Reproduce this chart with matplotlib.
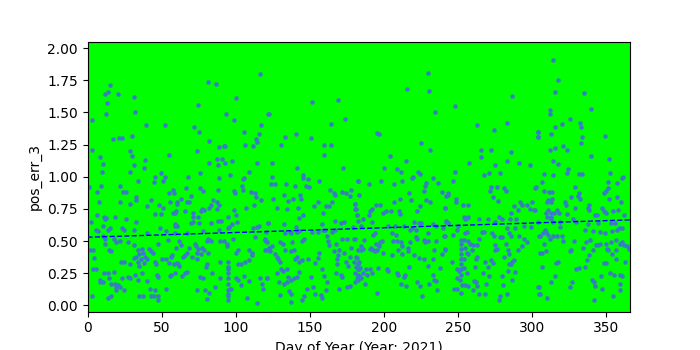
import numpy as np
import matplotlib
matplotlib.use("Agg")
import matplotlib.pyplot as plt

# (day of year, pos_err_3), split by stretch of the year
days_0_60 = [
    (15.5, 1.71), (13.7, 1.66), (12, 1.64), (20.5, 1.64), (13, 1.57), (31.3, 1.62),
    (12.4, 1.49), (32, 1.50), (2.9, 1.44), (39.4, 1.40), (52, 1.40), (17.3, 1.29),
    (21.2, 1.30), (23.2, 1.30), (30.2, 1.32), (2.9, 1.21), (28.6, 1.20), (30, 1.16),
    (8.3, 1.15), (55, 1.17), (10.4, 1.10), (9.5, 1.04), (31.3, 1.09), (38.7, 1.13),
    (38, 1.07), (29, 1.04), (33.8, 0.97), (0.9, 0.92), (9, 0.93), (21.8, 0.93),
    (45.5, 1.00), (45, 0.96), (49.7, 1.03), (52, 1.00), (51, 0.97), (6.3, 0.88),
    (24, 0.88), (26.3, 0.88), (33, 0.84), (32.7, 0.82), (7.7, 0.80), (21.8, 0.80),
    (28.6, 0.79), (42.8, 0.82), (40.1, 0.77), (48, 0.78), (51, 0.76), (55, 0.87),
    (57.7, 0.90), (58.3, 0.87), (55.6, 0.80), (60.6, 0.79), (58.8, 0.72), (57.7, 0.72),
    (45.5, 0.71), (49.7, 0.71), (2.5, 0.65), (6.3, 0.70), (11.3, 0.69), (12.4, 0.68),
    (12, 0.67), (18.5, 0.69), (26, 0.67), (32.7, 0.65), (10.4, 0.62), (15, 0.60),
    (13.5, 0.59), (5.4, 0.59), (7, 0.58), (23.6, 0.60), (24.3, 0.59), (31.3, 0.59),
    (40, 0.56), (48.9, 0.60), (58.8, 0.63), (60.6, 0.62), (52.7, 0.58), (47.7, 0.48),
    (54, 0.51), (10.6, 0.54), (12, 0.52), (11.7, 0.48), (18, 0.52), (19.4, 0.49),
    (22, 0.50), (27, 0.49), (1.4, 0.43), (3.6, 0.43), (14.6, 0.43), (15.8, 0.42),
    (4.7, 0.37), (22.7, 0.34), (24.3, 0.34), (28.6, 0.32), (31.3, 0.37), (32.7, 0.38),
    (34.4, 0.43), (36.5, 0.44), (34.9, 0.40), (36.3, 0.36), (38.7, 0.38), (40, 0.36),
    (38, 0.33), (33.8, 0.34), (35, 0.31), (41.2, 0.44), (43.9, 0.41), (45.3, 0.34),
    (46, 0.32), (50.5, 0.36), (52.7, 0.36), (56, 0.38), (57, 0.39), (54.7, 0.33),
    (58.3, 0.32), (56.5, 0.24), (55.4, 0.23), (61, 0.32), (4, 0.28), (5.9, 0.28),
    (11, 0.25), (14, 0.25), (17.6, 0.26), (8.6, 0.20), (8.3, 0.18), (10.4, 0.18),
    (14.4, 0.21), (16, 0.17), (18.5, 0.17), (19.4, 0.14), (20.3, 0.16), (21.6, 0.14),
    (19, 0.12), (23.4, 0.21), (27.3, 0.22), (28.8, 0.21), (32.2, 0.24), (34, 0.20),
    (36.5, 0.25), (40, 0.19), (42, 0.13), (46.6, 0.24), (47.7, 0.22), (45.3, 0.12),
    (47.5, 0.07), (24.5, 0.12), (2.7, 0.07), (13.5, 0.06), (16, 0.07), (35, 0.07),
    (37.4, 0.07), (43, 0.07), (44.6, 0.07), (47.3, 0.04), (52.7, 0.13), (31.7, 0.47),
    (37.4, 0.41), (43, 0.42),
]

days_60_120 = [
    (116.3, 1.80), (81.2, 1.74), (86.6, 1.72), (74.5, 1.56), (100.1, 1.61), (93.4, 1.49),
    (98.8, 1.44), (72, 1.39), (75.1, 1.35), (105.5, 1.35), (122, 1.49), (117, 1.40),
    (115.6, 1.33), (113.8, 1.29), (114.5, 1.27), (81.9, 1.28), (106.2, 1.25), (111.6, 1.24),
    (88.6, 1.23), (92, 1.24), (93, 1.24), (73.8, 1.20), (87.3, 1.14), (90.7, 1.14),
    (88, 1.09), (92.7, 1.11), (97.4, 1.12), (81.9, 1.11), (114.3, 1.11), (75.8, 1.03),
    (67.7, 1.00), (88.6, 0.99), (96, 1.01), (108.7, 1.04), (105.5, 0.99), (104.8, 0.98),
    (88, 0.90), (75.6, 0.91), (77.8, 0.89), (98.8, 0.89), (99.4, 0.87), (104.4, 0.93),
    (105, 0.90), (110.2, 0.88), (112.7, 0.87), (113.8, 0.84), (117, 0.82), (66.6, 0.91),
    (63.2, 0.83), (69.5, 0.85), (60.3, 0.80), (67, 0.80), (68.2, 0.80), (84.6, 0.82),
    (87.3, 0.80), (88.6, 0.78), (83, 0.78), (81.9, 0.76), (77.4, 0.75), (78.3, 0.74),
    (59.4, 0.73), (65.7, 0.73), (71.1, 0.72), (71.1, 0.69), (76.5, 0.73), (87.5, 0.75),
    (98.8, 0.74), (100.3, 0.70), (106.9, 0.76), (112, 0.78), (74.5, 0.69), (88.2, 0.66),
    (89.8, 0.66), (94.7, 0.69), (83, 0.64), (69.5, 0.64), (71.1, 0.65), (75.1, 0.64),
    (97.4, 0.63), (101, 0.65), (58.7, 0.62), (115.4, 0.62), (114.3, 0.61), (95.8, 0.61),
    (94.5, 0.60), (78, 0.58), (88.6, 0.59), (111.8, 0.60), (122, 0.64), (67.3, 0.56),
    (59.1, 0.56), (112.7, 0.53), (119.9, 0.52), (120.8, 0.49), (81.4, 0.52), (83.2, 0.50),
    (80.8, 0.50), (89.5, 0.50), (92, 0.50), (94, 0.48), (94.3, 0.46), (97.9, 0.52),
    (61.6, 0.50), (60, 0.45), (63.2, 0.47), (72.2, 0.48), (73.3, 0.46), (74.5, 0.44),
    (77.2, 0.45), (78.5, 0.43), (68.4, 0.45), (67.3, 0.41), (81, 0.41), (73.6, 0.41),
    (76.3, 0.40), (74, 0.36), (64.1, 0.38), (66.1, 0.39), (100.1, 0.41), (101.7, 0.43),
    (108.9, 0.43), (111.1, 0.41), (111.1, 0.39), (119.5, 0.43), (122.4, 0.43),
    (94.7, 0.34), (94.7, 0.30), (94.7, 0.28), (94.7, 0.25), (94.7, 0.21), (94.7, 0.17),
    (94.7, 0.12), (94.7, 0.09), (94.7, 0.07), (94.7, 0.04), (89.5, 0.34), (80.8, 0.32),
    (79.9, 0.30), (70.4, 0.38), (60.5, 0.33), (61.6, 0.31), (66.8, 0.26), (65.5, 0.25),
    (63.9, 0.23), (58.7, 0.25), (76, 0.22), (77.6, 0.21), (83.7, 0.25), (89.3, 0.21),
    (101.7, 0.32), (103.5, 0.32), (106.4, 0.34), (108.7, 0.35), (100.3, 0.21), (101.5, 0.20),
    (103.5, 0.16), (105.5, 0.23), (109.1, 0.19), (116.1, 0.21), (120.8, 0.21), (117.7, 0.17),
    (118.3, 0.13), (73.6, 0.12), (79.2, 0.12), (81.9, 0.10), (80.5, 0.05), (86, 0.14),
    (96, 0.13), (97, 0.13), (107.8, 0.06), (114.3, 0.02),
]

days_120_180 = [
    (151.5, 1.58), (169, 1.60), (122.4, 1.49), (173.7, 1.45), (164.3, 1.41), (140.4, 1.33),
    (133.2, 1.31), (150.8, 1.30), (130.5, 1.25), (159.6, 1.25), (164, 1.25), (159.6, 1.17),
    (124.5, 1.11), (141.1, 1.07), (172.4, 1.07), (124.5, 1.00), (145.4, 1.01), (145.4, 0.99),
    (148.8, 0.98), (123.8, 0.94), (126.5, 0.94), (133.9, 0.94), (140, 0.93), (147.4, 0.93),
    (149.7, 0.92), (156.2, 0.97), (163.6, 0.90), (166.3, 0.87), (167, 0.86), (171.7, 0.88),
    (174.4, 0.87), (177.8, 0.90), (177.1, 0.85), (182.3, 0.97), (125.1, 0.83), (132.6, 0.86),
    (135.3, 0.81), (138.9, 0.83), (143.4, 0.86), (143.8, 0.83), (155.5, 0.80), (152.8, 0.77),
    (127.8, 0.76), (134.6, 0.75), (142, 0.76), (160.9, 0.77), (163, 0.77), (164.7, 0.80),
    (180.3, 0.79), (180.5, 0.75), (182.1, 0.70), (158.9, 0.72), (145.4, 0.70), (142.9, 0.68),
    (166.8, 0.66), (171.3, 0.64), (172.8, 0.65), (182.7, 0.66), (121.5, 0.64), (132.6, 0.63),
    (140.7, 0.61), (158.2, 0.63), (179.1, 0.61), (120.4, 0.57), (119.5, 0.51), (120.4, 0.50),
    (133, 0.56), (136.4, 0.57), (137.5, 0.56), (141.1, 0.57), (142, 0.58), (142.9, 0.58),
    (145.8, 0.52), (144.5, 0.50), (151.7, 0.57), (155.5, 0.57), (158.7, 0.59), (160.5, 0.59),
    (165.2, 0.57), (167.2, 0.59), (124.5, 0.46), (122.4, 0.45), (120.2, 0.43), (123.1, 0.42),
    (129.9, 0.49), (131.9, 0.48), (137.7, 0.49), (133, 0.43), (137.3, 0.42), (139.1, 0.43),
    (126.7, 0.40), (128.5, 0.36), (129.6, 0.34), (127.8, 0.38), (141.1, 0.38), (140.2, 0.36),
    (142.9, 0.34), (145, 0.35), (148.8, 0.36), (153.3, 0.33), (156, 0.41), (155.5, 0.37),
    (161.8, 0.54), (162.3, 0.50), (163, 0.47), (167.4, 0.48), (166.3, 0.42), (169.7, 0.43),
    (169, 0.39), (168.3, 0.36), (168.6, 0.32), (171.5, 0.52), (175.1, 0.52), (179.8, 0.52),
    (177.6, 0.45), (173.1, 0.41), (174.4, 0.34), (176, 0.31), (176.9, 0.38), (179.8, 0.34),
    (181.4, 0.38), (182.5, 0.43), (182.6, 0.32), (183, 0.28), (182.7, 0.24), (182.3, 0.20),
    (121.1, 0.21), (128, 0.25), (130.5, 0.28), (132.1, 0.27), (134.4, 0.28), (135.3, 0.22),
    (137.1, 0.20), (139.1, 0.21), (141.3, 0.22), (142.5, 0.26), (134.4, 0.18), (132.8, 0.17),
    (129.2, 0.18), (135.7, 0.11), (137.5, 0.09), (137.3, 0.03), (129.9, 0.08), (144.5, 0.04),
    (147.9, 0.13), (152.4, 0.14), (153.5, 0.09), (151, 0.22), (158.2, 0.28), (159.3, 0.23),
    (161.6, 0.18), (161.1, 0.12), (167.7, 0.25), (171.3, 0.24), (172, 0.22), (169.5, 0.13),
    (174.9, 0.14), (177.3, 0.15), (157.5, 0.08), (158.2, 0.06), (145.8, 0.07),
]

days_180_240 = [
    (229.8, 1.81), (215.6, 1.68), (230.5, 1.67), (234.5, 1.50), (195.2, 1.34), (196.7, 1.33),
    (225.1, 1.26), (231.2, 1.21), (204.2, 1.16), (215, 1.12), (200.1, 1.07), (208.9, 1.06),
    (211.6, 1.04), (182.5, 0.97), (190, 0.94), (198.1, 0.97), (206.9, 0.94), (212.3, 0.97),
    (219, 0.99), (219.9, 1.00), (223.3, 1.04), (224.6, 1.02), (233.2, 0.99), (228.2, 0.95),
    (228, 0.93), (236.8, 0.95), (227.3, 0.89), (183.2, 0.86), (217, 0.87), (239.3, 0.88),
    (242.9, 0.86), (210.9, 0.83), (218.3, 0.82), (228.7, 0.82), (231.2, 0.80), (206.9, 0.80),
    (194.5, 0.78), (197.2, 0.78), (180.3, 0.79), (181.2, 0.75), (224.4, 0.77), (241.1, 0.76),
    (192, 0.75), (190.4, 0.73), (190, 0.70), (199.2, 0.72), (201.7, 0.73), (204.6, 0.73),
    (210, 0.73), (210.7, 0.71), (222.2, 0.73), (182.1, 0.70), (186, 0.67), (191.8, 0.65),
    (184.8, 0.62), (202.8, 0.62), (207.5, 0.62), (213.4, 0.62), (220.4, 0.65), (223.5, 0.64),
    (225.3, 0.64), (233, 0.63), (234.8, 0.62), (242.2, 0.66), (243.5, 0.64), (239.7, 0.60),
    (217.4, 0.59), (219, 0.60), (221.3, 0.59), (193.8, 0.56), (192.7, 0.55), (205.5, 0.56),
    (208.4, 0.55), (229.8, 0.56), (240.6, 0.54), (180.3, 0.52), (186.4, 0.51), (197.2, 0.49),
    (199, 0.50), (194.9, 0.48), (196.5, 0.46), (206.4, 0.50), (209.1, 0.50), (211.4, 0.49),
    (217.9, 0.49), (221.7, 0.53), (222, 0.52), (226.9, 0.51), (227.8, 0.49), (235.2, 0.50),
    (184.4, 0.46), (185.9, 0.44), (184.8, 0.43), (190.4, 0.44), (191.6, 0.45), (192.9, 0.43),
    (194.2, 0.42), (195.4, 0.43), (199.4, 0.41), (205.5, 0.39), (209.6, 0.43), (212, 0.46),
    (216.3, 0.45), (216.3, 0.42), (212, 0.40), (220.4, 0.39), (223.5, 0.37), (227.1, 0.36),
    (229.6, 0.50), (229.6, 0.31), (233.6, 0.43), (239.3, 0.40), (241.1, 0.44), (233.2, 0.36),
    (182.1, 0.37), (183.5, 0.34), (181, 0.30), (182.5, 0.28), (184.1, 0.29), (180.3, 0.25),
    (183.5, 0.23), (185.7, 0.25), (182.1, 0.21), (184.8, 0.21), (180.3, 0.18), (187.1, 0.17),
    (188.2, 0.28), (188.9, 0.24), (190.9, 0.28), (192, 0.25), (196, 0.29), (201.9, 0.28),
    (202.4, 0.27), (195.4, 0.10), (208.7, 0.25), (209.8, 0.24), (213.4, 0.22), (214.1, 0.24),
    (217, 0.30), (211.6, 0.17), (215.2, 0.15), (222.2, 0.18), (224.4, 0.15), (230.7, 0.17),
    (233.6, 0.20), (235.2, 0.19), (237.9, 0.29), (233.4, 0.24), (235.7, 0.12), (226, 0.07),
]

days_240_300 = [
    (286.6, 1.63), (248.1, 1.55), (283.2, 1.42), (262.9, 1.40), (274.4, 1.36), (304.1, 1.35),
    (304.1, 1.31), (265.6, 1.21), (272.4, 1.21), (285.9, 1.19), (265.6, 1.15), (283.2, 1.12),
    (257.5, 1.11), (275.1, 1.09), (291.3, 1.11), (298.7, 1.09), (248.1, 1.04), (270.6, 1.03),
    (267.7, 1.01), (278.5, 1.03), (246.7, 0.97), (302.1, 0.91), (272.4, 0.92), (276.4, 0.92),
    (271.3, 0.89), (281.2, 0.91), (282.5, 0.89), (273.7, 0.84), (277.1, 0.81), (243.4, 0.87),
    (242.2, 0.85), (248.8, 0.83), (248.8, 0.80), (241.1, 0.76), (253.5, 0.78), (256.9, 0.78),
    (287.9, 0.77), (285.7, 0.72), (292, 0.80), (293.3, 0.78), (296.2, 0.78), (300.1, 0.80),
    (298.7, 0.75), (301.4, 0.74), (290.6, 0.74), (254, 0.69), (255.7, 0.68), (256.4, 0.69),
    (255, 0.67), (264.3, 0.67), (270.4, 0.67), (277.3, 0.69), (279.4, 0.67), (285.2, 0.67),
    (289, 0.67), (242.2, 0.65), (243.4, 0.64), (250.1, 0.62), (249.2, 0.59), (274.9, 0.65),
    (294.2, 0.62), (299.4, 0.61), (304.1, 0.65), (265.9, 0.57), (267.4, 0.57), (256.2, 0.57),
    (255, 0.56), (282.7, 0.60), (288.1, 0.60), (241.1, 0.54), (246.7, 0.55), (273.1, 0.56),
    (274.2, 0.54), (279.4, 0.53), (278, 0.53), (284.3, 0.56), (285.7, 0.54), (291.3, 0.54),
    (294.7, 0.52), (304.8, 0.54), (264.1, 0.52), (251.7, 0.51), (251.7, 0.48), (251.7, 0.44),
    (251.7, 0.40), (251.7, 0.36), (251.7, 0.32), (251.7, 0.28), (251.7, 0.24), (252.4, 0.16),
    (251.7, 0.10), (253.9, 0.51), (256.9, 0.50), (257.8, 0.48), (254.6, 0.45), (256, 0.41),
    (256.9, 0.40), (260.2, 0.47), (259.6, 0.43), (262.7, 0.47), (241.1, 0.43), (275.1, 0.47),
    (275.1, 0.43), (276, 0.44), (282.3, 0.48), (283.6, 0.43), (290.6, 0.43), (293.3, 0.46),
    (296.2, 0.49), (262.9, 0.38), (261.8, 0.36), (246, 0.34), (254.1, 0.36), (249.2, 0.28),
    (250.6, 0.27), (254.1, 0.29), (256.2, 0.25), (261.4, 0.30), (268.3, 0.34), (270.4, 0.30),
    (272.2, 0.35), (273.3, 0.33), (281.2, 0.38), (284.1, 0.40), (284.5, 0.32), (285.7, 0.32),
    (286.6, 0.34), (287.9, 0.35), (288.1, 0.26), (283.4, 0.27), (286.1, 0.20), (279.8, 0.23),
    (267, 0.25), (271, 0.23), (280, 0.16), (249.4, 0.21), (251.2, 0.20), (249.2, 0.13),
    (254.6, 0.16), (256.6, 0.15), (260.5, 0.19), (262, 0.18), (262.5, 0.15), (260, 0.12),
    (247.2, 0.13), (264.3, 0.09), (268.3, 0.09), (269, 0.17), (283, 0.09), (278.5, 0.07),
    (277.8, 0.04), (304.1, 0.14), (304.8, 0.09), (305.2, 0.41),
]

days_300_365 = [
    (314.2, 1.91), (317.6, 1.75), (315.5, 1.66), (335.1, 1.65), (339.8, 1.53), (312.2, 1.52),
    (312.2, 1.49), (325.7, 1.45), (320.3, 1.41), (332.4, 1.42), (333.1, 1.39), (315.1, 1.39),
    (304, 1.35), (304, 1.31), (312.8, 1.33), (349.3, 1.32), (333.8, 1.31), (333.1, 1.26),
    (320.9, 1.24), (323.6, 1.21), (312.2, 1.21), (315.5, 1.22), (339.8, 1.16), (352, 1.14),
    (314.2, 1.12), (317.6, 1.10), (324.3, 1.06), (323.6, 1.03), (308.1, 1.02), (314.2, 1.01),
    (331.7, 1.02), (333.8, 1.02), (352.7, 1.03), (360.8, 0.99), (361.4, 1.00), (306.8, 0.96),
    (302.5, 0.92), (329, 0.92), (351.3, 0.96), (351.3, 0.91), (357.4, 0.95), (307.9, 0.89),
    (311.5, 0.88), (313.5, 0.88), (331.5, 0.87), (331.1, 0.85), (332.6, 0.83), (326.3, 0.84),
    (348.6, 0.87), (349.7, 0.89), (352, 0.83), (357.4, 0.84), (310.8, 0.82), (309.7, 0.80),
    (312.6, 0.80), (313.5, 0.83), (322.3, 0.80), (322.7, 0.78), (338.5, 0.78), (337.8, 0.76),
    (329, 0.76), (347.3, 0.76), (360.1, 0.80), (301.8, 0.74), (310.8, 0.74), (309.2, 0.72),
    (312.4, 0.72), (309.7, 0.69), (312.4, 0.69), (314.6, 0.72), (316.7, 0.74), (318.2, 0.72),
    (323.6, 0.71), (338.5, 0.74), (342.3, 0.70), (343.7, 0.70), (348.4, 0.73), (350, 0.72),
    (354.7, 0.73), (358, 0.74), (362.1, 0.70), (312.6, 0.67), (314.2, 0.65), (319.1, 0.65),
    (327.7, 0.67), (329.7, 0.65), (337.8, 0.63), (344.6, 0.64), (353.3, 0.64), (355.9, 0.64),
    (318.9, 0.61), (335.8, 0.59), (341.2, 0.58), (345.9, 0.57), (349.3, 0.56), (354, 0.58),
    (357.2, 0.59), (358.7, 0.60), (360.3, 0.60), (308.6, 0.59), (309.5, 0.57), (310.4, 0.55),
    (305, 0.54), (307, 0.56), (314.2, 0.54), (316.9, 0.54), (320.3, 0.54), (320.9, 0.50),
    (312.2, 0.52), (328.4, 0.50), (336.5, 0.49), (339.2, 0.51), (343.2, 0.47), (344.6, 0.47),
    (345.9, 0.48), (349.5, 0.48), (352.9, 0.49), (356.7, 0.51), (360.3, 0.49), (362.1, 0.47),
    (363.7, 0.46), (365, 0.44), (308.3, 0.48), (306.3, 0.41), (309.5, 0.42), (334.4, 0.45),
    (341.2, 0.43), (326.1, 0.43), (325.7, 0.42), (350.6, 0.44), (351.3, 0.43), (354, 0.40),
    (356.7, 0.43), (359.4, 0.48), (338.5, 0.39), (337.1, 0.35), (348.6, 0.33), (350, 0.33),
    (356.7, 0.36), (362.6, 0.34), (317.1, 0.34), (316.4, 0.33), (306.8, 0.30), (331.3, 0.29),
    (329.7, 0.28), (335.8, 0.30), (352.7, 0.25), (355.4, 0.24), (359.4, 0.24), (360.8, 0.23),
    (315.5, 0.23), (346.6, 0.23), (312.6, 0.18), (327, 0.18), (340.5, 0.20), (341.9, 0.18),
    (342.5, 0.15), (325.7, 0.14), (304.7, 0.14), (305.4, 0.09), (310.1, 0.06), (347.3, 0.13),
    (359.4, 0.17), (359.4, 0.12), (354.7, 0.07), (341.9, 0.04),
]

# dashed trend line ends
trend_days = [0, 366]
trend_vals = [0.53, 0.665]

points = days_0_60 + days_120_180 + days_60_120 + days_180_240 + days_240_300 + days_300_365
doy = np.array([p[0] for p in points])
err = np.array([p[1] for p in points])

fig, ax = plt.subplots(figsize=(7, 3.5), dpi=100)
ax.set_facecolor('#00ff00')
ax.scatter(doy, err, s=5, color='#3a7bc8', zorder=2)
ax.plot(trend_days, trend_vals, 'b--', linewidth=1, zorder=3)
ax.set_xlim(0, 366)
ax.set_ylim(-0.047, 2.047)
ax.set_xlabel("Day of Year (Year: 2021)")
ax.set_ylabel("pos_err_3")
plt.savefig("out.png")
